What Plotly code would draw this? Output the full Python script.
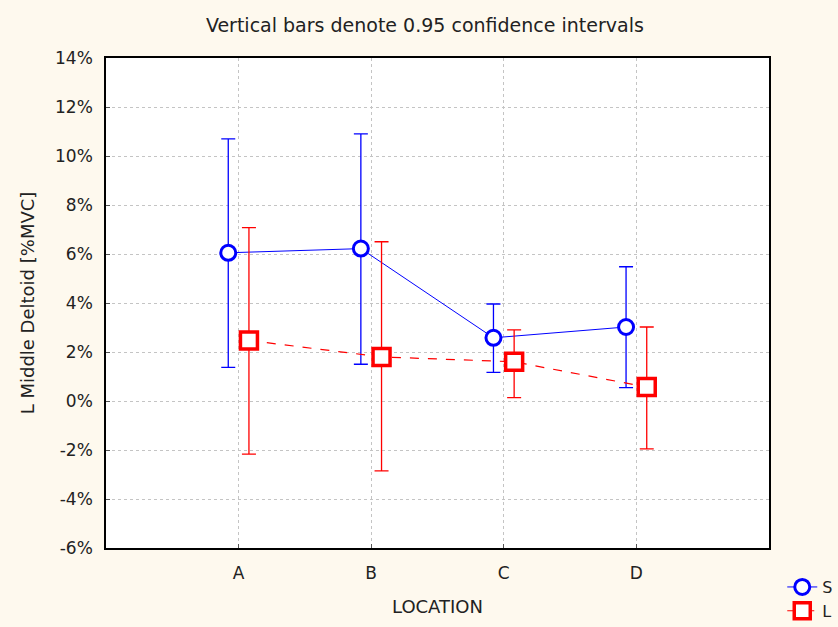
import plotly.graph_objects as go

categories = ["A", "B", "C", "D"]
s_mean = [6.05, 6.22, 2.58, 3.02]
s_upper = [10.7, 10.9, 3.96, 5.48]
s_lower = [1.37, 1.5, 1.17, 0.55]
l_mean = [2.47, 1.8, 1.6, 0.57]
l_upper = [7.08, 6.5, 2.9, 3.02]
l_lower = [-2.17, -2.85, 0.14, -1.95]

xpos = [1, 2, 3, 4]
offset = 0.078
s_x = [x - offset for x in xpos]
l_x = [x + offset for x in xpos]

BLUE = "#0000FF"
RED = "#FF0000"
FONT = "DejaVu Sans, Liberation Sans, Arial, sans-serif"

fig = go.Figure()
fig.add_trace(go.Scatter(
    x=s_x, y=s_mean, name="S", mode="lines+markers",
    line=dict(color=BLUE, width=1),
    marker=dict(symbol="circle", size=15, color="white", line=dict(color=BLUE, width=3)),
    error_y=dict(type="data", symmetric=False,
                 array=[u - m for u, m in zip(s_upper, s_mean)],
                 arrayminus=[m - lo for m, lo in zip(s_mean, s_lower)],
                 color=BLUE, thickness=1.3, width=7),
))
fig.add_trace(go.Scatter(
    x=l_x, y=l_mean, name="L", mode="lines+markers",
    line=dict(color=RED, width=1.2, dash="dash"),
    marker=dict(symbol="square", size=17, color="white", line=dict(color=RED, width=3.5)),
    error_y=dict(type="data", symmetric=False,
                 array=[u - m for u, m in zip(l_upper, l_mean)],
                 arrayminus=[m - lo for m, lo in zip(l_mean, l_lower)],
                 color=RED, thickness=1.3, width=7),
))

fig.update_layout(
    width=838, height=627,
    margin=dict(l=106, r=69, t=58, b=79, autoexpand=False),
    paper_bgcolor="#FEF9EE",
    plot_bgcolor="white",
    font=dict(family=FONT, size=17, color="#222222"),
    title=dict(text="Vertical bars denote 0.95 confidence intervals",
               x=0.507, xanchor="center", y=0.96, yanchor="middle",
               font=dict(family=FONT, size=19)),
    showlegend=True,
    legend=dict(x=1.02, y=-0.045, xanchor="left", yanchor="top",
                bgcolor="rgba(0,0,0,0)", font=dict(size=16),
                itemwidth=30, tracegroupgap=0),
    xaxis=dict(range=[0, 5], tickmode="array", tickvals=xpos, ticktext=categories,
               showgrid=True, gridcolor="#C4C4C4", griddash="dot", gridwidth=1,
               showline=True, linecolor="black", linewidth=1.5, mirror=True,
               ticks="inside", ticklen=4, tickcolor="#555555",
               ticklabelstandoff=9, automargin=False,
               zeroline=False,
               title=dict(text="LOCATION", font=dict(size=18), standoff=18)),
    yaxis=dict(range=[-6, 14], tickmode="array",
               tickvals=list(range(-6, 15, 2)),
               ticktext=[f"{v}%" for v in range(-6, 15, 2)],
               showgrid=True, gridcolor="#C4C4C4", griddash="dot", gridwidth=1,
               showline=True, linecolor="black", linewidth=1.5, mirror=True,
               ticks="inside", ticklen=4, tickcolor="#555555",
               ticklabelstandoff=8, automargin=False,
               zeroline=False,
               title=dict(text="L Middle Deltoid [%MVC]", font=dict(size=18), standoff=16)),
)

fig.write_html("out.html")
